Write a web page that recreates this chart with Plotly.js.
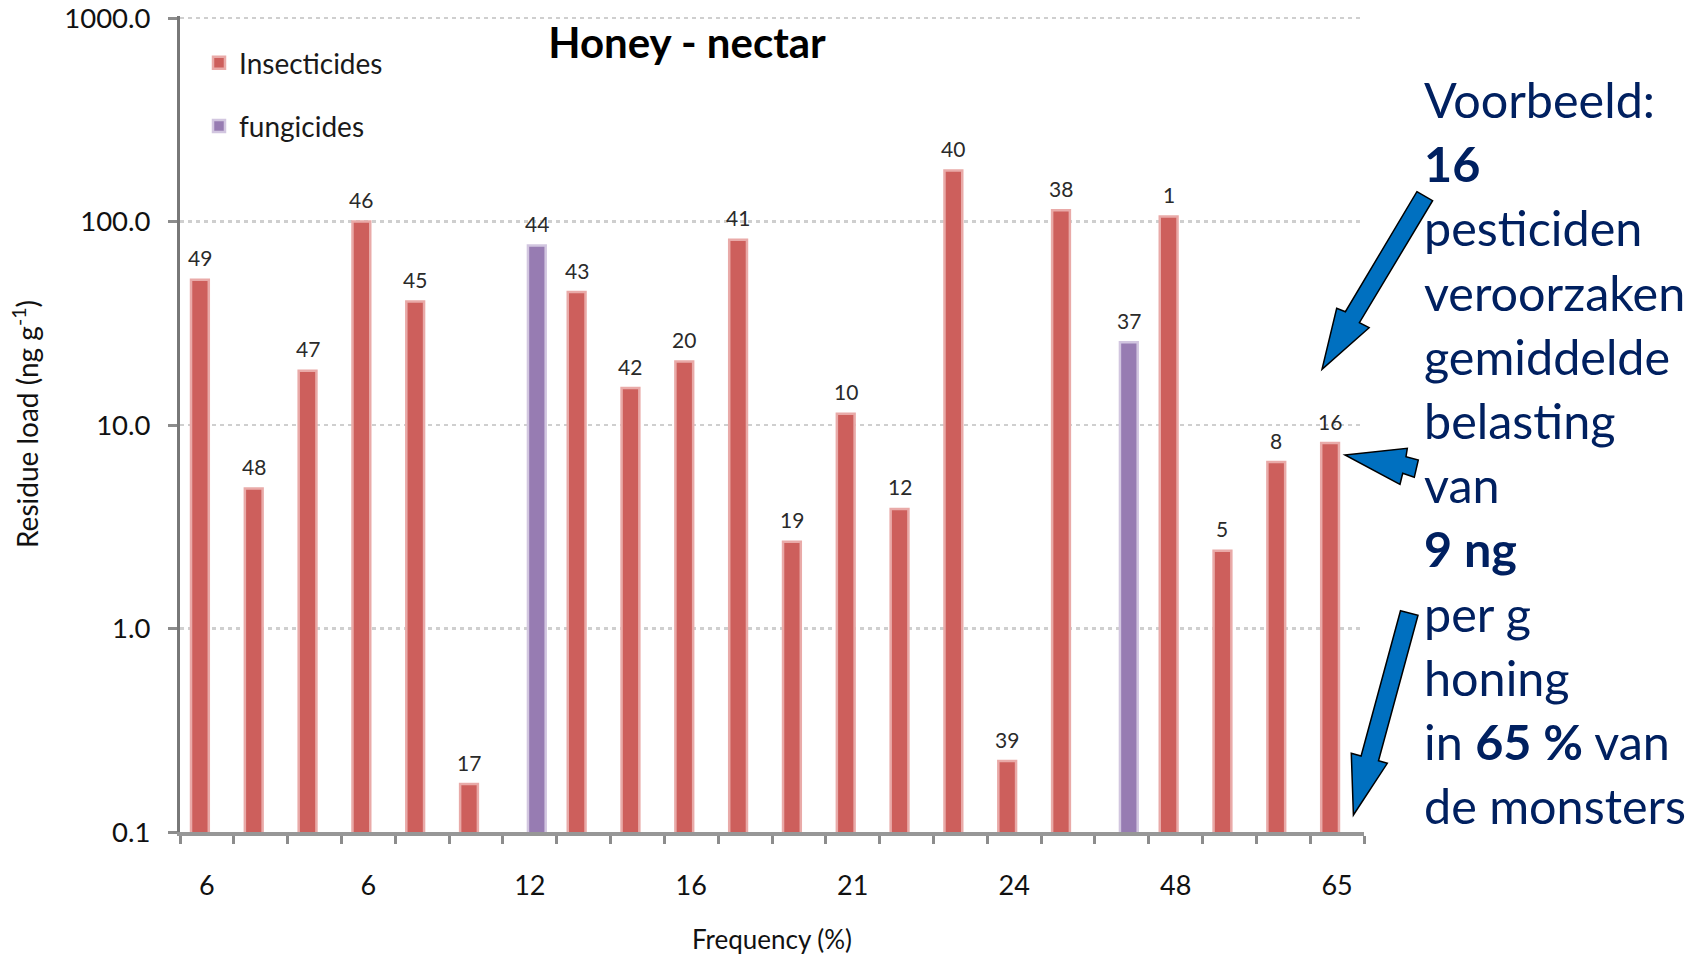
<!DOCTYPE html>
<html>
<head>
<meta charset="utf-8">
<script src="https://cdn.plot.ly/plotly-3.0.1.min.js"></script>
<style>
html,body{margin:0;padding:0;background:#ffffff;}
#chart{width:1697px;height:955px;}
</style>
</head>
<body>
<div id="chart"></div>
<script>
// ---- data ----
const categoryIndex = [0,1,2,3,4,5,6,7,8,9,10,11,12,13,14,15,16,17,18,19,20,21];
const insecticideLoad = [51.8, 4.87, 18.5, 100, 40.5, 0.172, null, 45.0, 15.2, 20.5, 81.4, 2.67, 11.35, 3.87, 178, 0.223, 113.5, null, 106, 2.41, 6.58, 8.15];
const insecticideIds  = ['49','48','47','46','45','17','','43','42','20','41','19','10','12','40','39','38','','1','5','8','16'];
const fungicideLoad   = [null,null,null,null,null,null,76.3,null,null,null,null,null,null,null,null,null,null,25.5,null,null,null,null];
const fungicideIds    = ['','','','','','','44','','','','','','','','','','','37','','','',''];
const frequencyTickPos    = [0,3,6,9,12,15,18,21];
const frequencyTickLabels = ['6','6','12','16','21','24','48','65'];
const loadTickVals   = [0.1, 1, 10, 100, 1000];
const loadTickLabels = ['0.1','1.0','10.0','100.0','1000.0'];
const noteLines = [
  'Voorbeeld:',
  '<b>16</b>',
  'pesticiden',
  'veroorzaken',
  'gemiddelde',
  'belasting',
  'van',
  '<b>9 ng</b>',
  'per g',
  'honing',
  'in <b>65 %</b> van',
  'de monsters'
];

// ---- layout helpers ----
const FONT = 'Lato, "Open Sans", sans-serif';
const M = {l:180, r:333, t:16, b:123};
const W = 1697, H = 955;
const PW = W - M.l - M.r, PH = H - M.t - M.b;
const px = X => (X - M.l) / PW;
const py = Y => (H - M.b - Y) / PH;
const pathFrom = pts => 'M' + pts.map(p => px(p[0]).toFixed(5) + ',' + py(p[1]).toFixed(5)).join(' L') + ' Z';

const BAR_W = 0.33, SHIFT = 0.13;
const categoryBoundaries = [-0.5].concat(categoryIndex.map(i => i + 0.5));

const traces = [
  {
    type: 'bar', name: 'Insecticides', legendgroup: 'a',
    x: categoryIndex, y: insecticideLoad,
    width: BAR_W, offset: -SHIFT - BAR_W / 2,
    marker: {color: '#CD5F5C', line: {color: '#E9AAA8', width: 2.5}},
    hoverinfo: 'x+y'
  },
  {
    type: 'bar', name: 'fungicides', legendgroup: 'b',
    x: categoryIndex, y: fungicideLoad,
    width: BAR_W, offset: SHIFT - BAR_W / 2,
    marker: {color: '#977CB2', line: {color: '#D2C6E0', width: 2.5}},
    hoverinfo: 'x+y'
  }
];

const annotations = [];
function addLabels(vals, ids, shift) {
  vals.forEach((v, i) => {
    if (v === null) return;
    annotations.push({
      xref: 'x', yref: 'y', x: categoryIndex[i] + shift, y: Math.log10(v),
      text: ids[i], showarrow: false, yanchor: 'middle', xanchor: 'center', yshift: 22,
      font: {family: FONT, size: 21, color: '#2a2a2a'}
    });
  });
}
addLabels(insecticideLoad, insecticideIds, -SHIFT);
addLabels(fungicideLoad, fungicideIds, SHIFT);

noteLines.forEach((t, i) => {
  annotations.push({
    xref: 'paper', yref: 'paper', x: px(1422), y: py(99 + i * 64.2),
    xanchor: 'left', yanchor: 'middle', showarrow: false, align: 'left',
    text: t, font: {family: FONT, size: 48.5, color: '#002060'}
  });
});

const arrowStyle = {fillcolor: '#0070C0', line: {color: '#000000', width: 1.5}};
const arrows = [
  [[1416.9,191.7],[1432.6,200.7],[1359.4,322.7],[1369.1,327.7],[1322,369.3],[1336.7,308.3],[1345.4,311.7]],
  [[1345,455],[1407.3,448.3],[1406,456.7],[1418.3,460],[1414.3,477.3],[1402.7,473.3],[1400,484.3]],
  [[1400.5,610.7],[1418,615.3],[1378.5,760.7],[1387.3,763.3],[1353.4,815],[1351.3,753.3],[1361.1,756]]
];
const shapes = arrows.map(a => Object.assign({type: 'path', xref: 'paper', yref: 'paper', path: pathFrom(a), layer: 'above'}, arrowStyle));

const layout = {
  width: W, height: H,
  margin: M,
  paper_bgcolor: '#ffffff', plot_bgcolor: '#ffffff',
  barmode: 'overlay',
  showlegend: true,
  font: {family: FONT, color: '#1a1a1a'},
  title: {
    text: '<b>Honey - nectar</b>',
    font: {family: FONT, size: 42, color: '#000000'},
    xref: 'container', yref: 'container', x: 687 / W, y: 1 - 43 / H,
    xanchor: 'center', yanchor: 'middle'
  },
  legend: {
    x: px(199), y: py(38), xanchor: 'left', yanchor: 'top',
    bgcolor: 'rgba(0,0,0,0)', borderwidth: 0,
    font: {family: FONT, size: 28, color: '#1a1a1a'},
    traceorder: 'grouped', tracegroupgap: 24
  },
  xaxis: {
    range: [-0.5, 21.5],
    tickmode: 'array', tickvals: frequencyTickPos, ticktext: frequencyTickLabels,
    ticks: '', ticklabelstandoff: 27,
    tickfont: {family: FONT, size: 27, color: '#111111'},
    minor: {tickmode: 'array', tickvals: categoryBoundaries, ticks: 'outside', ticklen: 8, tickwidth: 3, tickcolor: '#8c8c8c', showgrid: false},
    showgrid: false, zeroline: false,
    showline: true, linecolor: '#979797', linewidth: 4,
    title: {text: 'Frequency (%)', font: {family: FONT, size: 26, color: '#111111'}, standoff: 32},
    automargin: false, fixedrange: true
  },
  yaxis: {
    type: 'log', range: [-1, 3.01],
    tickmode: 'array', tickvals: loadTickVals, ticktext: loadTickLabels,
    ticks: 'outside', ticklen: 9, tickwidth: 3, tickcolor: '#8c8c8c', ticklabelstandoff: 12,
    ticklabeloverflow: 'allow',
    tickfont: {family: FONT, size: 27.5, color: '#111111'},
    showgrid: true, gridcolor: '#cfcfcf', gridwidth: 2.5, griddash: '4px,4px',
    zeroline: false,
    showline: true, linecolor: '#787878', linewidth: 3,
    title: {text: 'Residue load (ng g<sup>-1</sup>)', font: {family: FONT, size: 28, color: '#111111'}, standoff: 18},
    automargin: false, fixedrange: true
  },
  annotations: annotations,
  shapes: shapes
};

Plotly.newPlot('chart', traces, layout, {displayModeBar: false, staticPlot: true});
</script>
</body>
</html>
